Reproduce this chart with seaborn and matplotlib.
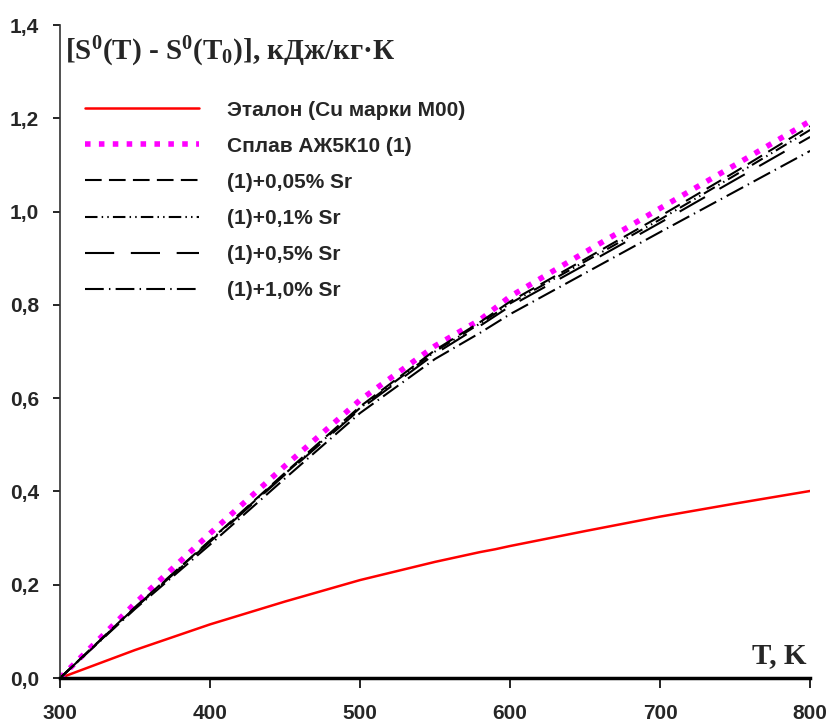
import matplotlib
matplotlib.use("Agg")
import matplotlib.pyplot as plt
import seaborn as sns
import pandas as pd

# ---- data ----
T = [300, 350, 400, 450, 500, 550, 580, 590, 600, 650, 700, 750, 800]
s_cu = [0.0, 0.060, 0.115, 0.164, 0.210, 0.249, 0.270, 0.276, 0.283, 0.315, 0.346, 0.374, 0.401]
s_alloy = [0.0, 0.160, 0.310, 0.455, 0.596, 0.712, 0.768, 0.793, 0.818, 0.913, 1.007, 1.100, 1.194]
s_005 = [0.0, 0.152, 0.295, 0.440, 0.582, 0.703, 0.763, 0.785, 0.807, 0.898, 0.990, 1.085, 1.183]
s_01 = [0.0, 0.151, 0.294, 0.438, 0.579, 0.700, 0.760, 0.781, 0.803, 0.893, 0.983, 1.078, 1.175]
s_05 = [0.0, 0.150, 0.292, 0.436, 0.576, 0.695, 0.755, 0.776, 0.797, 0.886, 0.976, 1.068, 1.160]
s_10 = [0.0, 0.148, 0.286, 0.428, 0.568, 0.684, 0.740, 0.760, 0.780, 0.868, 0.956, 1.043, 1.130]

labels = ["Эталон (Cu марки М00)", "Сплав АЖ5К10 (1)", "(1)+0,05% Sr",
          "(1)+0,1% Sr", "(1)+0,5% Sr", "(1)+1,0% Sr"]
xticks = [300, 400, 500, 600, 700, 800]
yticks = [0.0, 0.2, 0.4, 0.6, 0.8, 1.0, 1.2, 1.4]
ytick_labels = ["0,0", "0,2", "0,4", "0,6", "0,8", "1,0", "1,2", "1,4"]

series = [s_cu, s_alloy, s_005, s_01, s_05, s_10]
styles = [
    dict(color="#ff0000", lw=1.8, ls="-"),
    dict(color="#ff00ff", lw=4.0, ls=(0, (1, 1.5))),
    dict(color="black", lw=1.5, ls=(0, (8, 3.5))),
    dict(color="black", lw=1.5, ls=(0, (6, 2, 0.7, 2, 0.7, 2))),
    dict(color="black", lw=1.5, ls=(0, (14, 8))),
    dict(color="black", lw=1.5, ls=(0, (9, 2.5, 0.7, 2.5))),
]

sns.set_theme(style="white")
plt.rcParams['font.family'] = ['Liberation Sans Narrow', 'Liberation Sans', 'DejaVu Sans']
plt.rcParams['mathtext.default'] = 'regular'

fig = plt.figure(figsize=(8.3, 7.25), dpi=100)
ax = fig.add_axes([0.0723, 0.0648, 0.9037, 0.9007])

for vals, lab, st in zip(series, labels, styles):
    df = pd.DataFrame({"T": T, "S": vals})
    sns.lineplot(data=df, x="T", y="S", ax=ax, label=lab, color=st["color"],
                 linewidth=st["lw"], linestyle=st["ls"])

ax.set_xlim(300, 800)
ax.set_ylim(0, 1.4)
ax.set_xticks(xticks)
ax.set_xticklabels([str(v) for v in xticks])
ax.set_yticks(yticks)
ax.set_yticklabels(ytick_labels)
ax.set_xlabel("")
ax.set_ylabel("")

for s in ["top", "right"]:
    ax.spines[s].set_visible(False)
ax.spines["bottom"].set_linewidth(2.5)
ax.spines["bottom"].set_color("black")
ax.spines["left"].set_linewidth(1.2)
ax.spines["left"].set_color("#333333")

ax.tick_params(axis="x", direction="out", length=7, width=1.2, color="black",
               bottom=True, pad=12, labelsize=15)
ax.tick_params(axis="y", direction="out", length=5, width=1.2, color="black",
               left=True, pad=10, labelsize=15)
for t in ax.get_xticklabels() + ax.get_yticklabels():
    t.set_fontweight("bold")

serif = ['Liberation Serif', 'DejaVu Serif']
ax.text(0.007, 0.985, r"[S$^0$(T) - S$^0$(T$_0$)], кДж/кг·К", transform=ax.transAxes,
        ha="left", va="top", fontsize=21, fontweight="bold", family=serif)
ax.text(0.995, 0.014, "T, K", transform=ax.transAxes, ha="right", va="bottom",
        fontsize=21, fontweight="bold", family=serif)

leg = ax.legend(loc="upper left", bbox_to_anchor=(0.008, 0.913), frameon=False,
                handlelength=5.5, handletextpad=1.35, labelspacing=0.82,
                prop=dict(family=['Liberation Sans Narrow', 'Liberation Sans', 'DejaVu Sans'],
                          weight="bold", size=15))

fig.savefig("out.png", dpi=100)
